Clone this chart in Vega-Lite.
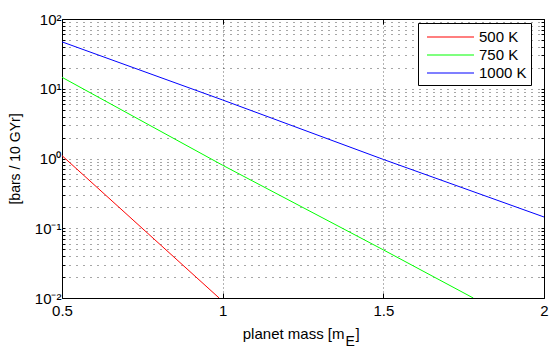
{
  "$schema": "https://vega.github.io/schema/vega-lite/v6.json",
  "width": 482,
  "height": 279,
  "autosize": {"type": "none"},
  "padding": {"left": 62, "top": 19, "right": 10, "bottom": 49},
  "background": "white",
  "config": {
    "font": "Liberation Sans",
    "view": {"stroke": "black", "strokeWidth": 1},
    "axis": {"labelFont": "Liberation Sans", "titleFont": "Liberation Sans", "labelColor": "black", "titleColor": "black", "titleFontWeight": "normal", "labelFontSize": 14, "titleFontSize": 15, "domainColor": "black", "tickColor": "black"}
  },
  "data": {"values": [
    {"series": "500 K", "mass": 0.5, "rate": 1.1},
    {"series": "500 K", "mass": 0.989, "rate": 0.01},
    {"series": "750 K", "mass": 0.5, "rate": 14.6},
    {"series": "750 K", "mass": 1.0, "rate": 0.8},
    {"series": "750 K", "mass": 1.5, "rate": 0.049},
    {"series": "750 K", "mass": 1.78, "rate": 0.01},
    {"series": "1000 K", "mass": 0.5, "rate": 47},
    {"series": "1000 K", "mass": 1.0, "rate": 6.9},
    {"series": "1000 K", "mass": 1.5, "rate": 0.97},
    {"series": "1000 K", "mass": 2.0, "rate": 0.145}
  ]},
  "layer": [
    {
      "mark": {"type": "line", "strokeWidth": 1, "clip": true},
      "encoding": {
        "x": {"field": "mass", "type": "quantitative", "scale": {"domain": [0.5, 2], "nice": false, "zero": false},
          "axis": {"values": [0.5, 1, 1.5, 2], "format": "~g", "labelFontSize": 15, "labelFlush": false, "title": "planet mass [m", "titleAlign": "right", "titleAnchor": null, "titleX": 282, "titleY": 40, "titleBaseline": "alphabetic", "grid": true, "gridDash": [1, 3], "gridColor": "#000", "gridOpacity": 0.6, "tickSize": -5, "labelPadding": 10, "domain": false}},
        "y": {"field": "rate", "type": "quantitative", "scale": {"type": "log", "domain": [0.01, 100], "nice": false},
          "axis": {"values": [0.01,0.02,0.03,0.04,0.05,0.06,0.07,0.08,0.09,0.1,0.2,0.3,0.4,0.5,0.6,0.7,0.8,0.9,1,2,3,4,5,6,7,8,9,10,20,30,40,50,60,70,80,90,100],
            "labelExpr": "datum.value == 0.01 ? '10⁻²' : datum.value == 0.1 ? '10⁻¹' : datum.value == 1 ? '10⁰' : datum.value == 10 ? '10¹' : datum.value == 100 ? '10²' : ''",
            "labelFontSize": 15, "title": "[bars / 10 GYr]", "titleFontSize": 14, "grid": true, "gridDash": [1, 6], "gridColor": "#000", "gridOpacity": 0.7, "tickSize": -3, "labelPadding": 4, "domain": false, "titlePadding": 12}},
        "color": {"field": "series", "type": "nominal", "sort": ["500 K", "750 K", "1000 K"],
          "scale": {"domain": ["500 K", "750 K", "1000 K"], "range": ["#ff0000", "#00ff00", "#0000ff"]},
          "legend": {"title": null, "orient": "none", "legendX": 356, "legendY": 4, "fillColor": "white", "strokeColor": "black", "padding": 4, "labelFontSize": 15, "labelFont": "Liberation Sans", "labelColor": "black", "labelExpr": "datum.label + '\u00a0'", "symbolType": "M-0.5,-0.05H4.2V0.05H-0.5Z", "symbolSize": 400, "symbolStrokeWidth": 0, "rowPadding": 0, "labelOffset": 37,
            "encode": {"symbols": {"update": {"fill": {"scale": "color", "field": "value"}, "fillOpacity": {"value": 1}, "strokeWidth": {"value": 0}}}}}}
      }
    },
    {
      "mark": {"type": "line", "opacity": 0},
      "encoding": {
        "x": {"field": "mass", "type": "quantitative", "axis": {"orient": "bottom", "title": "E", "titleFontSize": 14, "titleAlign": "left", "titleAnchor": null, "titleX": 283, "titleY": 47, "titleBaseline": "alphabetic", "labels": false, "ticks": false, "domain": false, "grid": false}},
        "y": {"field": "rate", "type": "quantitative", "axis": {"orient": "right", "values": [0.01,0.02,0.03,0.04,0.05,0.06,0.07,0.08,0.09,0.1,0.2,0.3,0.4,0.5,0.6,0.7,0.8,0.9,1,2,3,4,5,6,7,8,9,10,20,30,40,50,60,70,80,90,100], "labels": false, "title": null, "tickSize": -3, "grid": false, "domain": false}}
      }
    },
    {
      "mark": {"type": "line", "opacity": 0},
      "encoding": {
        "x": {"field": "mass", "type": "quantitative", "axis": {"orient": "bottom", "title": "]", "titleAlign": "left", "titleAnchor": null, "titleX": 293, "titleY": 40, "titleBaseline": "alphabetic", "labels": false, "ticks": false, "domain": false, "grid": false}},
        "y": {"field": "rate", "type": "quantitative", "axis": null}
      }
    },
    {
      "mark": {"type": "line", "opacity": 0},
      "encoding": {
        "x": {"field": "mass", "type": "quantitative", "axis": {"orient": "top", "values": [0.5, 1, 1.5, 2], "title": null, "labels": false, "tickSize": -5, "domain": false, "grid": false}},
        "y": {"field": "rate", "type": "quantitative", "axis": null}
      }
    }
  ],
  "resolve": {"axis": {"x": "independent", "y": "independent"}}
}
